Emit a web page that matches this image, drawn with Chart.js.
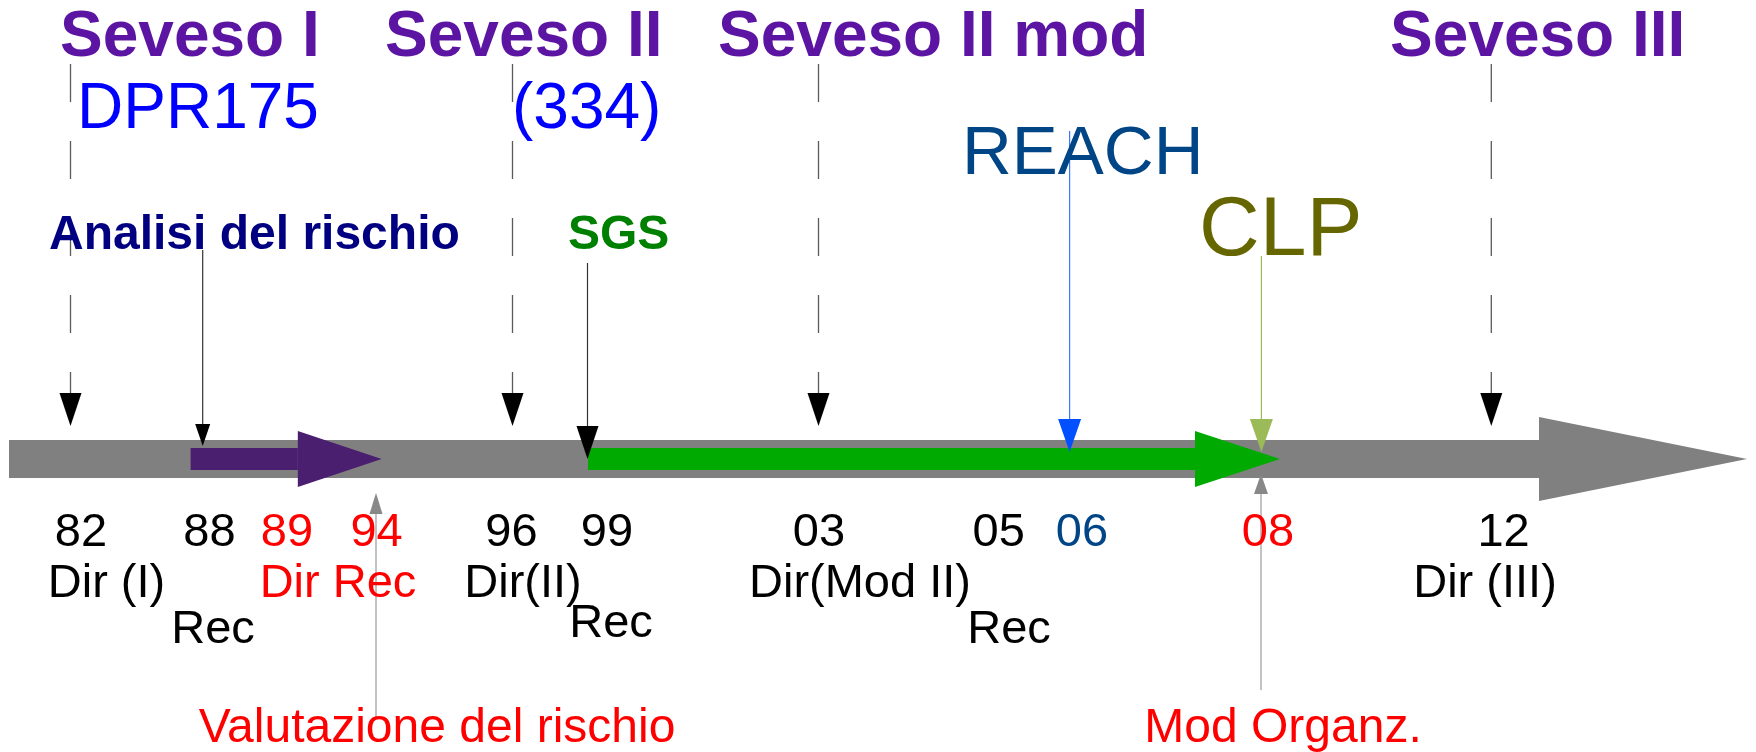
<!DOCTYPE html>
<html>
<head>
<meta charset="utf-8">
<title>Seveso</title>
<script src="https://cdn.jsdelivr.net/npm/chart.js@4.4.1/dist/chart.umd.min.js"></script>
<style>
body { margin: 0; background: #fff; }
canvas { display: block; }
</style>
</head>
<body>
<canvas id="grafico" width="1756" height="752"></canvas>
<script>
// asse x = posizione sulla linea del tempo (unità arbitrarie)

// direttive in alto
const direttive = ['Seveso I', 'Seveso II', 'Seveso II mod', 'Seveso III']
const posDirettive = [6.0, 38.5, 71.8, 139.0]
const frecceDirettive = [7.05, 51.25, 81.85, 149.13]
const recepimenti = ['DPR175', '(334)']
const posRecepimenti = [7.7, 51.2]

// altri eventi con freccia verso la linea
const eventi = ['Analisi del rischio', 'SGS', 'REACH', 'CLP']
const posTestoEventi = [4.9, 56.8, 96.2, 119.9]
const posFrecceEventi = [20.27, 58.75, 106.96, 126.14]

// anni sotto la linea
const anni = ['82', '88', '89', '94', '96', '99', '03', '05', '06', '08', '12']
const posAnni = [8.1, 20.95, 28.7, 37.66, 51.15, 60.7, 81.9, 99.87, 108.2, 126.8, 150.36]
const dir = ['Dir (I)', 'Dir Rec', 'Dir(II)', 'Dir(Mod II)', 'Dir (III)']
const posDir = [10.65, 33.8, 52.3, 86.0, 148.5]
const rec = ['Rec', 'Rec', 'Rec']
const posRec = [21.3, 61.1, 100.9]

// note in basso con freccia verso l'alto
const note = ['Valutazione del rischio', 'Mod Organz.']
const posNote = [43.7, 128.3]
const posFrecceNote = [37.6, 126.1]

// barre (linea del tempo, periodo analisi, periodo SGS)
const barre = ['tempo', 'analisi', 'sgs']
const inizioBarre = [0.9, 19.06, 58.8]
const puntaBarre = [153.9, 29.78, 119.5]
const fineBarre = [174.7, 38.17, 128.0]

// stili
const coloreAnni = ['#000', '#000', '#f00', '#f00', '#000', '#000', '#000', '#000', '#004586', '#f00', '#000']
const coloreDir = ['#000', '#f00', '#000', '#000', '#000']
const coloriBarre = ['#808080', '#4b1f70', '#00aa00']
const spessoriBarre = [38, 22, 22]
const mezzaPunta = [42, 28, 28]
const FONT = "'Liberation Sans', Arial, sans-serif"

function scrivi(ctx, t, x, y, font, colore, allinea) {
    ctx.font = font
    ctx.fillStyle = colore
    ctx.textAlign = allinea
    ctx.textBaseline = 'alphabetic'
    ctx.fillText(t, x, y)
}

function punta(ctx, x, yBase, yTip, largh, colore) {
    ctx.fillStyle = colore
    ctx.beginPath()
    ctx.moveTo(x - largh / 2, yBase)
    ctx.lineTo(x + largh / 2, yBase)
    ctx.lineTo(x, yTip)
    ctx.closePath()
    ctx.fill()
}

function linea(ctx, x, y1, y2, colore, w, dash) {
    ctx.save()
    ctx.strokeStyle = colore
    ctx.lineWidth = w
    ctx.setLineDash(dash || [])
    ctx.beginPath()
    ctx.moveTo(x, y1)
    ctx.lineTo(x, y2)
    ctx.stroke()
    ctx.restore()
}

const disegno = {
    id: 'disegno',
    afterDatasetsDraw(chart) {
        const ctx = chart.ctx
        const X = v => chart.scales.x.getPixelForValue(v)
        const Y = v => chart.scales.y.getPixelForValue(v)
        ctx.save()

        // punte delle barre
        barre.forEach((b, i) => {
            ctx.fillStyle = coloriBarre[i]
            ctx.beginPath()
            ctx.moveTo(X(puntaBarre[i]), Y(mezzaPunta[i]))
            ctx.lineTo(X(fineBarre[i]), Y(0))
            ctx.lineTo(X(puntaBarre[i]), Y(-mezzaPunta[i]))
            ctx.closePath()
            ctx.fill()
        })

        // direttive: linea tratteggiata + freccia
        frecceDirettive.forEach(p => {
            linea(ctx, X(p), Y(395), Y(66), '#5a5a5a', 1.3, [38, 39])
            punta(ctx, X(p), Y(66), Y(33), 22, '#000')
        })

        // frecce degli eventi
        linea(ctx, X(posFrecceEventi[0]), Y(209), Y(35), '#333', 1.2)
        punta(ctx, X(posFrecceEventi[0]), Y(35), Y(13), 15, '#000')
        linea(ctx, X(posFrecceEventi[1]), Y(196), Y(33), '#333', 1.2)
        punta(ctx, X(posFrecceEventi[1]), Y(33), Y(0), 22, '#000')
        linea(ctx, X(posFrecceEventi[2]), Y(328), Y(40), '#3a78ff', 1.2)
        punta(ctx, X(posFrecceEventi[2]), Y(40), Y(7), 23, '#0050ff')
        linea(ctx, X(posFrecceEventi[3]), Y(203), Y(40), '#9bbb59', 1.2)
        punta(ctx, X(posFrecceEventi[3]), Y(40), Y(7), 23, '#9bbb59')

        // frecce delle note (verso l'alto)
        linea(ctx, X(posFrecceNote[0]), Y(-55), Y(-258), '#999', 1.2)
        punta(ctx, X(posFrecceNote[0]), Y(-55), Y(-34), 13, '#888')
        linea(ctx, X(posFrecceNote[1]), Y(-35), Y(-231), '#999', 1.2)
        punta(ctx, X(posFrecceNote[1]), Y(-35), Y(-15), 14, '#888')

        // testi in alto
        direttive.forEach((t, i) => scrivi(ctx, t, X(posDirettive[i]), Y(403), 'bold 64px ' + FONT, '#5c14a2', 'left'))
        recepimenti.forEach((t, i) => scrivi(ctx, t, X(posRecepimenti[i]), Y(331), '64px ' + FONT, '#0000ff', 'left'))
        scrivi(ctx, eventi[0], X(posTestoEventi[0]), Y(210), 'bold 48px ' + FONT, '#000080', 'left')
        scrivi(ctx, eventi[1], X(posTestoEventi[1]), Y(210), 'bold 48px ' + FONT, '#008000', 'left')
        scrivi(ctx, eventi[2], X(posTestoEventi[2]), Y(285), '69px ' + FONT, '#004586', 'left')
        scrivi(ctx, eventi[3], X(posTestoEventi[3]), Y(204), '84px ' + FONT, '#666600', 'left')

        // testi in basso
        anni.forEach((t, i) => scrivi(ctx, t, X(posAnni[i]), Y(-87), '47px ' + FONT, coloreAnni[i], 'center'))
        dir.forEach((t, i) => scrivi(ctx, t, X(posDir[i]), Y(-138), '47px ' + FONT, coloreDir[i], 'center'))
        rec.forEach((t, i) => scrivi(ctx, t, X(posRec[i]), Y(i == 1 ? -178 : -184), '47px ' + FONT, '#000', 'center'))
        note.forEach((t, i) => scrivi(ctx, t, X(posNote[i]), Y(-283), '48px ' + FONT, '#f00', 'center'))

        ctx.restore()
    }
}

new Chart(document.getElementById('grafico').getContext('2d'), {
    type: 'line',
    data: {
        datasets: barre.map((b, i) => ({
            label: b,
            data: [{x: inizioBarre[i], y: 0}, {x: puntaBarre[i], y: 0}],
            borderColor: coloriBarre[i],
            borderWidth: spessoriBarre[i],
            borderCapStyle: 'butt',
            pointRadius: 0,
            fill: false,
            order: barre.length - i
        }))
    },
    options: {
        responsive: false,
        animation: false,
        events: [],
        layout: { padding: 0 },
        plugins: { legend: { display: false }, tooltip: { enabled: false } },
        scales: {
            x: { type: 'linear', display: false, min: 0, max: 175.6 },
            y: { type: 'linear', display: false, min: -293, max: 459 }
        }
    },
    plugins: [disegno]
})
</script>
</body>
</html>
